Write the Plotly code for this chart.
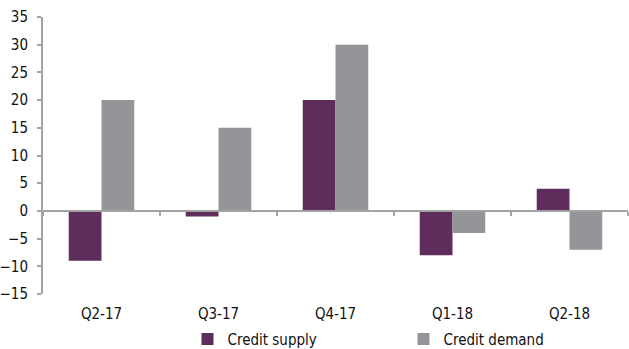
import plotly.graph_objects as go

# Quarterly survey results (net percentages)
quarters = ["Q2-17", "Q3-17", "Q4-17", "Q1-18", "Q2-18"]
credit_supply = [-9, -1, 20, -8, 4]
credit_demand = [20, 15, 30, -4, -7]
y_ticks = [-15, -10, -5, 0, 5, 10, 15, 20, 25, 30, 35]

SUPPLY_COLOR = "#5E2D5C"
DEMAND_COLOR = "#939598"
AXIS_GRAY = "#A3A3A6"
FONT = "Liberation Sans Narrow, DejaVu Sans Condensed, Arial Narrow, sans-serif"

fig = go.Figure()
fig.add_trace(go.Bar(name="Credit supply", x=quarters, y=credit_supply,
                     marker=dict(color=SUPPLY_COLOR, line=dict(width=0))))
fig.add_trace(go.Bar(name="Credit demand", x=quarters, y=credit_demand,
                     marker=dict(color=DEMAND_COLOR, line=dict(width=0))))
# invisible trace that carries the zero-level category axis
fig.add_trace(go.Scatter(x=quarters, y=[0] * len(quarters), xaxis="x2",
                         mode="markers", marker=dict(opacity=0),
                         showlegend=False, hoverinfo="skip"))

y_min, y_max = -15, 35
zero_pos = (0 - y_min) / (y_max - y_min)

fig.update_layout(
    width=629, height=349,
    margin=dict(l=43, r=1, t=17, b=55, autoexpand=False),
    paper_bgcolor="white", plot_bgcolor="white",
    font=dict(family=FONT, size=15, color="#111111"),
    barmode="group", bargap=0.44, bargroupgap=0,
    showlegend=True,
    legend=dict(orientation="h", x=0.247, xref="paper", y=0.075, yref="container",
                xanchor="left", yanchor="top",
                entrywidth=171, entrywidthmode="pixels",
                font=dict(family=FONT, size=15), itemwidth=30,
                bgcolor="rgba(0,0,0,0)"),
    xaxis=dict(type="category", categoryorder="array", categoryarray=quarters,
               range=[-0.5, 4.5], showline=False, showgrid=False, zeroline=False,
               ticks="outside", ticklen=6, tickcolor="rgba(0,0,0,0)",
               tickfont=dict(family=FONT, size=15), automargin=False),
    xaxis2=dict(type="category", categoryorder="array", categoryarray=quarters,
                range=[-0.5, 4.5], overlaying="x", anchor="free", position=zero_pos,
                showline=True, linecolor=AXIS_GRAY, linewidth=2,
                ticks="outside", tickson="boundaries", ticklen=4, tickwidth=2,
                tickcolor=AXIS_GRAY, showticklabels=False, showgrid=False,
                zeroline=False),
    yaxis=dict(range=[y_min, y_max], tickvals=y_ticks, showgrid=False,
               zeroline=False, showline=True, linecolor=AXIS_GRAY, linewidth=2,
               ticks="outside", ticklen=4, tickwidth=2, tickcolor=AXIS_GRAY,
               tickfont=dict(family=FONT, size=15), ticklabelstandoff=6,
               automargin=False),
)

fig.write_html("out.html")
